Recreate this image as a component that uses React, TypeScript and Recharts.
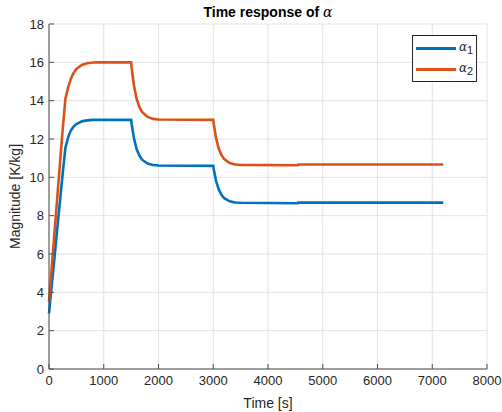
import { LineChart, Line, XAxis, YAxis, CartesianGrid, Legend } from "recharts";

// time response samples
const times = [
  0, 50, 100, 150, 200, 250, 300, 350, 400, 450, 500, 600, 700, 800, 900, 1500,
  1510, 1550, 1600, 1650, 1700, 1800, 1900, 2000, 3000,
  3010, 3050, 3100, 3150, 3200, 3300, 3400, 3500, 4540, 4550, 7200,
];
const alpha1 = [
  2.9, 4.35, 5.8, 7.3, 8.75, 10.2, 11.55, 12.1, 12.45, 12.65, 12.78, 12.92, 12.97, 13.0, 13.0, 13.0,
  12.77, 12.06, 11.48, 11.14, 10.92, 10.72, 10.64, 10.62, 10.6,
  10.41, 9.83, 9.37, 9.09, 8.91, 8.75, 8.69, 8.67, 8.65, 8.68, 8.68,
];
const alpha2 = [
  3.5, 5.3, 7.1, 8.9, 10.7, 12.5, 14.1, 14.7, 15.15, 15.45, 15.65, 15.86, 15.95, 15.99, 16.0, 16.0,
  15.71, 14.82, 14.1, 13.67, 13.41, 13.15, 13.05, 13.02, 13.0,
  12.77, 12.07, 11.5, 11.16, 10.95, 10.75, 10.67, 10.65, 10.63, 10.67, 10.67,
];
const xTicks = [0, 1000, 2000, 3000, 4000, 5000, 6000, 7000, 8000];
const yTicks = [0, 2, 4, 6, 8, 10, 12, 14, 16, 18];
const seriesNames = ["1", "2"];

const data = times.map((t, i) => ({ t, a1: alpha1[i], a2: alpha2[i] }));

const FONT = "Arial, 'Liberation Sans', Helvetica, sans-serif";
const AXIS = "#4d4d4d";
const TEXT = "#262626";
const tickStyle = { fill: TEXT, fontSize: 13, fontFamily: FONT };

const LegendBox = ({ payload }: any) => (
  <div style={{ border: `1px solid ${TEXT}`, background: "#fff", width: 65, height: 47, padding: "2px 0 0 0", boxSizing: "border-box" }}>
    {(payload || []).map((p: any, i: number) => (
      <div key={p.value} style={{ display: "flex", alignItems: "center", height: 21 }}>
        <span style={{ display: "inline-block", width: 40, height: 3, background: p.color, marginLeft: 3 }} />
        <span style={{ marginLeft: 3, fontFamily: "'DejaVu Serif', serif", fontStyle: "italic", fontSize: 12, color: TEXT }}>
          α<sub style={{ fontStyle: "normal", fontFamily: FONT, fontSize: 11 }}>{seriesNames[i]}</sub>
        </span>
      </div>
    ))}
  </div>
);

export default function App() {
  return (
    <div style={{ position: "absolute", left: 0, top: 0, width: 502, height: 412, background: "#fff" }}>
      <LineChart width={502} height={412} data={data} margin={{ top: 24, right: 15, bottom: 13, left: 0 }}>
        <CartesianGrid stroke="#e3e3e3" horizontalValues={yTicks} verticalValues={xTicks} />
        <XAxis
          dataKey="t" type="number" domain={[0, 8000]} ticks={xTicks} height={30}
          tick={tickStyle} stroke={AXIS} tickSize={-5} tickMargin={12}
          label={{ value: "Time [s]", position: "insideBottom", offset: -9, style: { fill: TEXT, fontSize: 14, fontFamily: FONT } }}
        />
        <XAxis xAxisId="top" orientation="top" dataKey="t" type="number" domain={[0, 8000]} ticks={xTicks} height={0} tick={false} stroke={AXIS} tickSize={-5} />
        <YAxis
          type="number" domain={[0, 18]} ticks={yTicks} width={49} interval={0}
          tick={tickStyle} stroke={AXIS} tickSize={-5} tickMargin={10}
          label={{ value: "Magnitude [K/kg]", angle: -90, position: "insideLeft", offset: 15, style: { fill: TEXT, fontSize: 14, fontFamily: FONT, textAnchor: "middle" } }}
        />
        <YAxis yAxisId="right" orientation="right" type="number" domain={[0, 18]} ticks={yTicks} width={0} tick={false} stroke={AXIS} tickSize={-5} />
        <Legend
          layout="vertical" verticalAlign="middle" align="center" content={<LegendBox />}
          wrapperStyle={{ left: 412, top: 35, width: 65 }}
        />
        <Line dataKey="a1" name="α1" stroke="#0072BD" strokeWidth={2.6} dot={false} isAnimationActive={false} />
        <Line dataKey="a2" name="α2" stroke="#D95319" strokeWidth={2.6} dot={false} isAnimationActive={false} />
        <text x={268} y={17} textAnchor="middle" fontFamily={FONT} fontSize={14} fontWeight="bold" fill="#000">
          Time response of <tspan fontFamily="'DejaVu Serif', serif" fontStyle="italic" fontWeight="normal">α</tspan>
        </text>
      </LineChart>
    </div>
  );
}
